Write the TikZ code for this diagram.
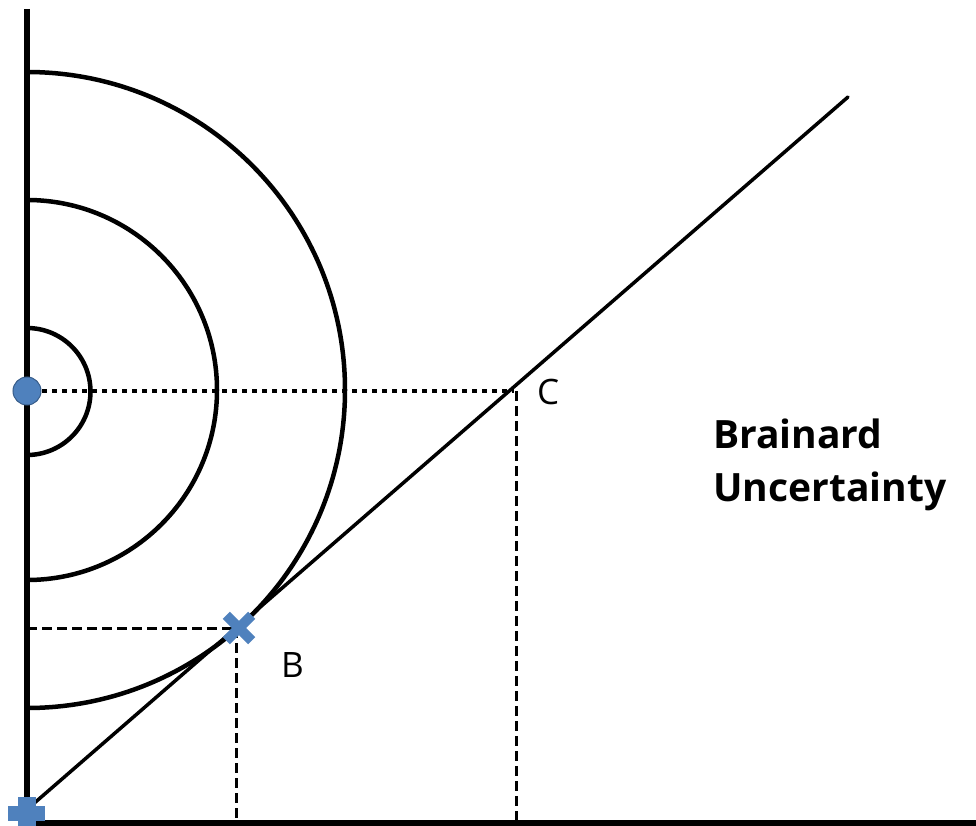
\documentclass[tikz,border=0pt]{standalone}
\usepackage{fontspec}
\setmainfont{Open Sans}
\definecolor{mblue}{RGB}{79,129,189}
\definecolor{mbluedark}{RGB}{56,93,138}
\begin{document}
\begin{tikzpicture}[x=1pt,y=-1pt,
  axisline/.style={line width=5.5pt},
  curve/.style={line width=4.5pt},
  budget/.style={line width=3.5pt, line cap=round},
  dashguide/.style={line width=3pt, dash pattern=on 10pt off 5pt},
  dotguide/.style={line width=4.5pt, dash pattern=on 5pt off 5pt},
  bluefill/.style={fill=mblue, draw=mbluedark, line width=1pt},
  lbl/.style={font=\fontsize{35}{40}\selectfont, anchor=base west, inner sep=0pt},
  title/.style={font=\bfseries\fontsize{39}{53}\selectfont, anchor=base west, inner sep=0pt}
]
\useasboundingbox (0,0) rectangle (976,826);
% reference points
\coordinate (O) at (27,391);
\coordinate (start) at (24,812);
\coordinate (end) at (848,97);
\coordinate (B) at (236,628);
\coordinate (C) at (514,391);
\coordinate (Bleft) at (27,628);
\coordinate (Bbot) at (236,822);
\coordinate (Cbot) at (516,822);
\coordinate (Cmid) at (516,391);
\coordinate (Oright) at (42,391);
% guides
\draw[dashguide] (Bleft) -- (B);
\draw[dashguide] (B) -- (Bbot);
\draw[dashguide] (Cmid) -- (Cbot);
\draw[dotguide] (Oright) -- (C);
% circles
\draw[curve] (27,328) arc[start angle=-90, end angle=90, radius=63.5];
\draw[curve] (27,200) arc[start angle=-90, end angle=90, radius=190];
\draw[curve] (27,72) arc[start angle=-90, end angle=90, radius=318];
% budget line
\draw[budget] (start) -- (end);
% axes
\draw[axisline] (27,9) -- (27,826);
\draw[axisline] (27,823) -- (976,823);
% markers
\node[circle, bluefill, minimum size=28pt, inner sep=0pt] (dot) at (O) {};
\fill[mblue] (8,806) rectangle (45,821);
\fill[mblue] (18,797) rectangle (36,830);
\begin{scope}[shift={(239,628)}, rotate=45]
\fill[mblue] (-18,-5) rectangle (18,5);
\fill[mblue] (-5,-18) rectangle (5,18);
\end{scope}
% labels
\node[lbl] (Clabel) at (537,404) {C};
\node[lbl] (Blabel) at (281,677) {B};
\node[title] (brain1) at (713,448) {Brainard};
\node[title] (brain2) at (713,501) {Uncertainty};
\end{tikzpicture}
\end{document}
